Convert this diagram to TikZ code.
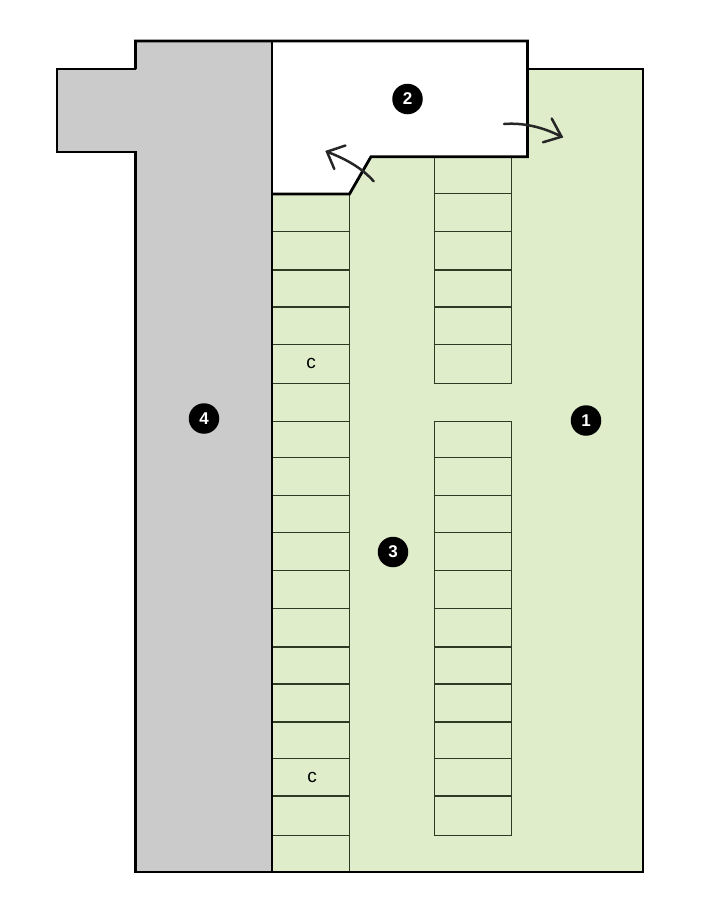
\documentclass[tikz,border=0pt]{standalone}
\usepackage{fontspec}
\setmainfont{Liberation Sans}
\definecolor{plangreen}{HTML}{DFEDCA}
\definecolor{plangrey}{HTML}{CBCBCB}
\definecolor{slotline}{HTML}{2F3A25}
\tikzset{
  wall/.style={draw=black,line width=2.8pt,line join=miter},
  slotline/.style={draw=slotline,line width=1.2pt},
  badge/.style={circle,fill=black,text=white,minimum size=30.5pt,inner sep=0pt,font=\fontsize{17}{17}\selectfont\bfseries},
  slotlabel/.style={inner sep=0pt,font=\fontsize{19}{19}\selectfont},
  swing/.style={draw=black!85,line width=2.5pt,line cap=round,line join=miter}
}
\begin{document}
\begin{tikzpicture}[x=1pt,y=-1pt]
\useasboundingbox (0,0) rectangle (703,908);
% areas
\path[fill=plangreen] (527.5,69) -- (643,69) -- (643,872) -- (272,872) -- (272,194) -- (349.5,194) -- (371,156.7) -- (527.5,156.7) -- cycle;
\path[fill=plangrey] (135.5,41) -- (272,41) -- (272,872) -- (135.5,872) -- (135.5,152) -- (57,152) -- (57,69) -- (135.5,69) -- cycle;
% left row of slots
\draw[slotline] (349.5,194) -- (349.5,872);
\foreach \y in {231.5,270,307,344.7,383.7,421.3,457.7,495.3,532.7,570.3,608.5,647,684,722,758.3,796,835.7}
  \draw[slotline] (272,\y) -- (349.5,\y);
% right rows of slots
\draw[slotline] (434.3,156.7) -- (434.3,383.7) -- (511.7,383.7) -- (511.7,156.7);
\foreach \y in {193.7,231.5,270,307,344.7}
  \draw[slotline] (434.3,\y) -- (511.7,\y);
\draw[slotline] (434.3,421.3) rectangle (511.7,835.7);
\foreach \y in {457.7,495.3,532.7,570.3,608.5,647,684,722,758.3,796}
  \draw[slotline] (434.3,\y) -- (511.7,\y);
% walls
\draw[wall] (135.5,69) -- (57,69) -- (57,152) -- (135.5,152) -- (135.5,872) -- (643,872) -- (643,69) -- (527.5,69);
\draw[wall] (135.5,69) -- (135.5,41) -- (527.5,41) -- (527.5,156.7) -- (371,156.7) -- (349.5,194) -- (272,194);
\draw[wall] (272,41) -- (272,872);
% door swings
\draw[swing] (504,124) .. controls (523,122.5) and (543,127) .. (561.5,136.7);
\draw[swing] (551.7,118.5) -- (561.5,136.7) -- (543,142.3);
\draw[swing] (373.7,181.3) .. controls (360,166) and (343,158) .. (327,151.7);
\draw[swing] (345.5,145.5) -- (327,151.7) -- (334.3,169);
% labels
\node[badge] (one) at (586,420.5) {1};
\node[badge] (two) at (407.5,99) {2};
\node[badge] (three) at (393,552) {3};
\node[badge] (four) at (204,418.5) {4};
\node[slotlabel] (c1) at (311,363) {c};
\node[slotlabel] (c2) at (312,777) {c};
\end{tikzpicture}
\end{document}
